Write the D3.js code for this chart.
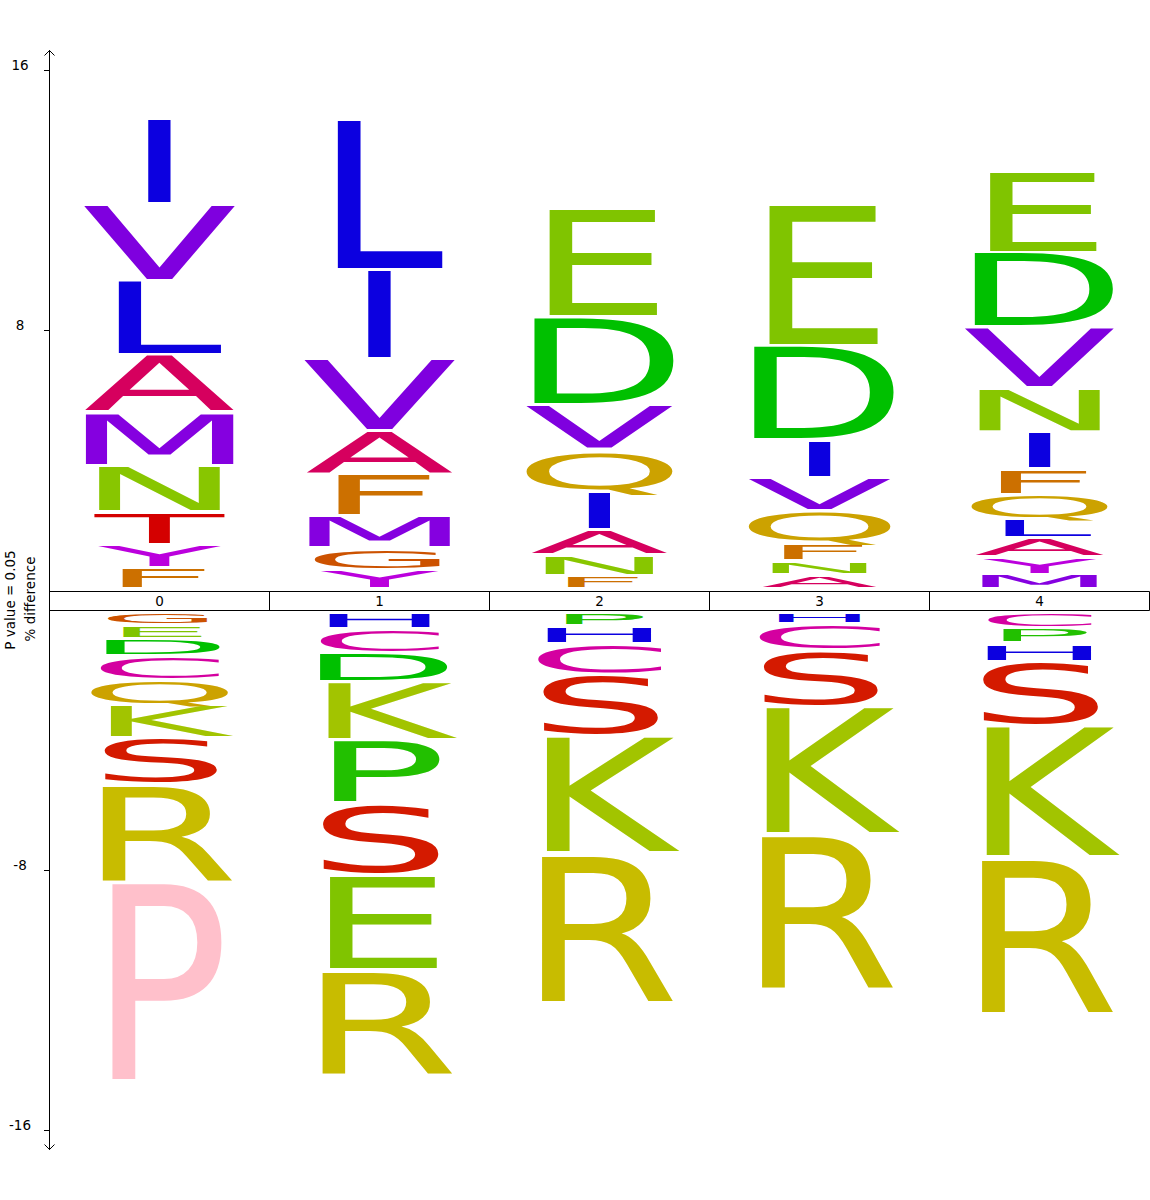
<!DOCTYPE html>
<html><head><meta charset="utf-8">
<script src="https://cdn.jsdelivr.net/npm/d3@7"></script>
<style>body{margin:0;background:#fff}svg{display:block}</style>
</head><body>
<svg id="chart" width="1150" height="1200"></svg>
<script>
// ---- data (stack order: from the axis band outward) ----
const positions = ["0", "1", "2", "3", "4"];

const upLetters = [
  ["F", "Y", "T", "N", "M", "A", "L", "V", "I"],
  ["Y", "G", "M", "F", "A", "V", "I", "L"],
  ["F", "N", "A", "I", "Q", "V", "D", "E"],
  ["A", "N", "F", "Q", "V", "I", "D", "E"],
  ["M", "Y", "A", "L", "Q", "F", "I", "N", "V", "D", "E"]
];
const upValues = [
  [0.65, 0.72, 1.01, 1.42, 1.64, 1.77, 2.29, 2.35, 2.63],
  [0.60, 0.66, 0.99, 1.29, 1.33, 2.22, 2.74, 4.64],
  [0.42, 0.64, 0.77, 1.19, 1.25, 1.40, 2.70, 3.37],
  [0.44, 0.44, 0.55, 0.97, 1.03, 1.16, 2.90, 4.34],
  [0.45, 0.53, 0.60, 0.57, 0.75, 0.79, 1.16, 1.35, 1.86, 2.29, 2.51]
];

const downLetters = [
  ["G", "E", "D", "C", "Q", "K", "S", "R", "P"],
  ["H", "C", "D", "K", "P", "S", "E", "R"],
  ["P", "H", "C", "S", "K", "R"],
  ["H", "C", "S", "K", "R"],
  ["C", "P", "H", "S", "K", "R"]
];
const downValues = [
  [-0.38, -0.42, -0.54, -0.74, -0.77, -1.01, -1.42, -3.02, -6.19],
  [-0.50, -0.74, -0.89, -1.77, -1.98, -2.19, -2.92, -3.23],
  [-0.41, -0.55, -0.94, -1.89, -3.60, -4.62],
  [-0.35, -0.81, -1.74, -3.90, -4.78],
  [-0.47, -0.48, -0.55, -1.98, -4.05, -4.81]
];

const yTickValues = [16, 8, -8, -16];
const axisTitles = ["P value = 0.05", "% difference"];

// ---- styles ----
const letterColors = {
  I: "#0c00e0", L: "#0c00e0", H: "#0c00e0",
  V: "#7f00df", M: "#8500e0", Y: "#bb00dd",
  A: "#d6005e", N: "#88c600", E: "#80c400", K: "#a2c400",
  D: "#00c000", P: "#22c000", T: "#d40000", S: "#d41a00",
  F: "#cc7000", G: "#cc5200", Q: "#cca200", C: "#d400a0", R: "#c8bc00"
};
const highlightColors = { "0:P": "#ffc0cb" };

const FONT = "DejaVu Sans";
const svg = d3.select("#chart");

const x = d3.scaleBand().domain(positions).range([49.5, 1149.5]);
const yUp = d3.scaleLinear().domain([0, 16]).range([590, 70]);
const yLo = d3.scaleLinear().domain([0, -16]).range([610, 1130]);

// glyph metrics via canvas
const ctx = document.createElement("canvas").getContext("2d");
ctx.font = "100px '" + FONT + "'";
ctx.textAlign = "center";
ctx.textBaseline = "alphabetic";
function metrics(ch) {
  const m = ctx.measureText(ch);
  let a = m.actualBoundingBoxAscent, d = m.actualBoundingBoxDescent;
  if (ch === "Q") {
    const o = ctx.measureText("O");
    a = o.actualBoundingBoxAscent; d = o.actualBoundingBoxDescent;
  }
  return { a, d };
}

const gLetters = svg.append("g");
function drawLetter(ch, color, cx, yTop, yBottom) {
  const h = yBottom - yTop;
  if (h <= 0.5) return;
  const m = metrics(ch);
  const sy = h / (m.a + m.d);
  const sx = 2.35 * Math.max(0.35, 1 - 3.0 / h);
  gLetters.append("text")
    .attr("transform", `translate(${cx},${yBottom}) scale(${sx},${sy})`)
    .attr("y", -m.d)
    .attr("text-anchor", "middle")
    .attr("font-family", FONT)
    .attr("font-size", 100)
    .attr("fill", color)
    .text(ch);
}
const INSET = 1.75;
positions.forEach((p, i) => {
  const cx = x(p) + x.bandwidth() / 2;
  // upper stack
  let base = yUp(0) - 1;
  upLetters[i].forEach((ch, j) => {
    const top = base - (yUp(0) - yUp(upValues[i][j]));
    const col = highlightColors[p + ":" + ch] || letterColors[ch];
    drawLetter(ch, col, cx, top + INSET, base - INSET);
    base = top;
  });
  // lower stack
  let lb = yLo(0) + 2.5;
  downLetters[i].forEach((ch, j) => {
    const bot = lb + (yLo(downValues[i][j]) - yLo(0));
    const col = highlightColors[p + ":" + ch] || letterColors[ch];
    drawLetter(ch, col, cx, lb + INSET, bot - INSET);
    lb = bot;
  });
});

// ---- band with position labels ----
const band = svg.append("g");
const bandTop = 591.5, bandBot = 610.5;
band.append("line").attr("x1", 49.5).attr("x2", 1149.5).attr("y1", bandTop).attr("y2", bandTop).attr("stroke", "#000");
band.append("line").attr("x1", 49.5).attr("x2", 1149.5).attr("y1", bandBot).attr("y2", bandBot).attr("stroke", "#000");
positions.forEach(p => {
  const xr = x(p) + x.bandwidth();
  band.append("line").attr("x1", xr).attr("x2", xr).attr("y1", bandTop).attr("y2", bandBot).attr("stroke", "#000");
  band.append("text").attr("x", x(p) + x.bandwidth() / 2).attr("y", 606)
    .attr("text-anchor", "middle").attr("font-family", FONT).attr("font-size", 13.5).attr("fill", "#000").text(p);
});

// ---- y axis ----
const ax = svg.append("g");
ax.append("line").attr("x1", 49.5).attr("x2", 49.5).attr("y1", 50).attr("y2", 1150).attr("stroke", "#000");
ax.append("path").attr("d", "M44.5,55.5L49.5,50.5L54.5,55.5").attr("fill", "none").attr("stroke", "#000");
ax.append("path").attr("d", "M44.5,1144.5L49.5,1149.5L54.5,1144.5").attr("fill", "none").attr("stroke", "#000");
yTickValues.forEach(v => {
  const yy = Math.round(v > 0 ? yUp(v) : yLo(v)) + 0.5;
  ax.append("line").attr("x1", 44).attr("x2", 49.5).attr("y1", yy).attr("y2", yy).attr("stroke", "#000");
  ax.append("text").attr("x", 20).attr("y", yy - 0.5).attr("text-anchor", "middle")
    .attr("font-family", FONT).attr("font-size", 13.5).attr("fill", "#000").text(v);
});
axisTitles.forEach((t, k) => {
  ax.append("text").attr("transform", `translate(${15 + 20 * k},${600 - k})rotate(-90)`)
    .attr("text-anchor", "middle").attr("font-family", FONT).attr("font-size", 13.5).attr("fill", "#000").text(t);
});
</script>
</body></html>
